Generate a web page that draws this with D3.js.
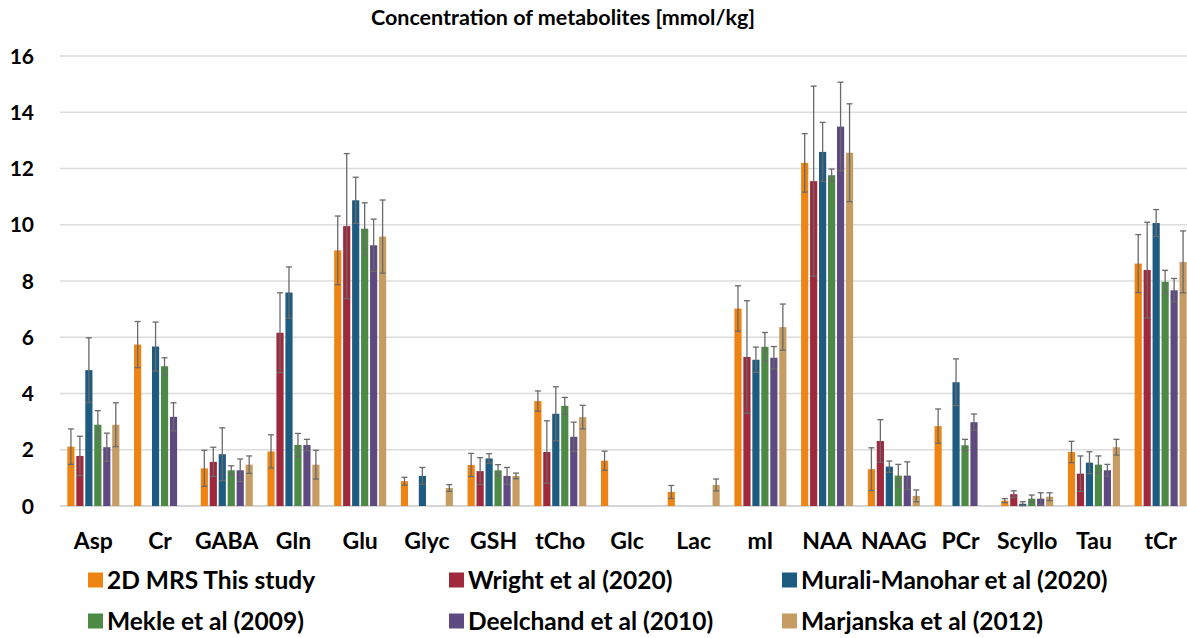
<!DOCTYPE html>
<html>
<head>
<meta charset="utf-8">
<script src="https://cdn.jsdelivr.net/npm/d3@7"></script>
<style>
  body { margin: 0; background: #fff; overflow: hidden; }
  svg { display: block; }
  text { font-family: Lato, "Open Sans", sans-serif; font-weight: bold; fill: #000; }
</style>
</head>
<body>
<div id="chart"></div>
<script>
const width = 1187, height = 638;
const margin = { top: 56, right: -7, bottom: 132, left: 60 };
const innerWidth = width - margin.left - margin.right;
const innerHeight = height - margin.top - margin.bottom;

const categories = ["Asp", "Cr", "GABA", "Gln", "Glu", "Glyc", "GSH", "tCho", "Glc", "Lac",
  "mI", "NAA", "NAAG", "PCr", "Scyllo", "Tau", "tCr"];

const seriesNames = ["2D MRS This study", "Wright et al (2020)", "Murali-Manohar et al (2020)",
  "Mekle et al (2009)", "Deelchand et al (2010)", "Marjanska et al (2012)"];

const colors = ["#ee8414", "#a0283c", "#1e5b80", "#4c8a46", "#5e4a80", "#c69c62"];

// values per series, in category order (null = not reported)
const thisStudy  = [2.11, 5.74, 1.34, 1.94, 9.09, 0.88, 1.46, 3.73, 1.61, 0.50, 7.02, 12.20, 1.31, 2.84, 0.19, 1.92, 8.62];
const wright     = [1.78, null, 1.57, 6.16, 9.95, null, 1.24, 1.92, null, null, 5.30, 11.55, 2.31, null, 0.42, 1.15, 8.39];
const murali     = [4.83, 5.67, 1.84, 7.59, 10.87, 1.07, 1.69, 3.28, null, null, 5.20, 12.59, 1.40, 4.40, 0.08, 1.54, 10.06];
const mekle      = [2.89, 4.97, 1.27, 2.17, 9.86, null, 1.27, 3.56, null, null, 5.66, 11.76, 1.08, 2.16, 0.26, 1.47, 7.97];
const deelchand  = [2.09, 3.17, 1.27, 2.17, 9.27, null, 1.07, 2.46, null, null, 5.27, 13.49, 1.08, 2.98, 0.26, 1.27, 7.67];
const marjanska  = [2.89, null, 1.47, 1.47, 9.58, 0.64, 1.07, 3.16, null, 0.75, 6.36, 12.56, 0.36, null, 0.33, 2.09, 8.68];

// standard deviations
const thisStudySd = [0.63, 0.82, 0.64, 0.59, 1.22, 0.14, 0.41, 0.36, 0.34, 0.23, 0.81, 1.04, 0.76, 0.61, 0.07, 0.38, 1.03];
const wrightSd    = [0.70, null, 0.52, 1.42, 2.58, null, 0.48, 1.11, null, null, 2.00, 3.38, 0.76, null, 0.12, 0.63, 1.70];
const muraliSd    = [1.15, 0.87, 0.94, 0.91, 0.82, 0.30, 0.17, 0.96, null, null, 0.45, 1.05, 0.20, 0.83, 0.07, 0.39, 0.48];
const mekleSd     = [0.50, 0.30, 0.16, 0.41, 0.92, null, 0.20, 0.30, null, null, 0.51, 0.22, 0.40, 0.21, 0.13, 0.31, 0.41];
const deelchandSd = [0.50, 0.50, 0.40, 0.20, 0.93, null, 0.30, 0.52, null, null, 0.40, 1.58, 0.49, 0.29, 0.21, 0.21, 0.42];
const marjanskaSd = [0.78, null, 0.31, 0.51, 1.30, 0.12, 0.10, 0.42, null, 0.21, 0.82, 1.74, 0.21, null, 0.14, 0.28, 1.10];

const yTicks = [0, 2, 4, 6, 8, 10, 12, 14, 16];

const seriesValues = [thisStudy, wright, murali, mekle, deelchand, marjanska];
const seriesSd = [thisStudySd, wrightSd, muraliSd, mekleSd, deelchandSd, marjanskaSd];

const data = [];
categories.forEach((cat, i) => {
  seriesNames.forEach((s, j) => {
    const v = seriesValues[j][i];
    if (v !== null) {
      data.push({ cat, series: s, value: v, sd: seriesSd[j][i] });
    }
  });
});

const svg = d3.select("#chart")
  .append("svg")
  .attr("width", width)
  .attr("height", height);

const innerChart = svg
  .append("g")
  .attr("transform", `translate(${margin.left}, ${margin.top})`);

const xScale = d3.scaleBand()
  .domain(categories)
  .range([0, innerWidth])
  .paddingInner(0.22)
  .paddingOuter(0.11);

const xSub = d3.scaleBand()
  .domain(seriesNames)
  .range([0, xScale.bandwidth()])
  .paddingInner(0.2);

const yScale = d3.scaleLinear()
  .domain([0, 16])
  .range([innerHeight, 0]);

const colorScale = d3.scaleOrdinal()
  .domain(seriesNames)
  .range(colors);

// gridlines
innerChart.append("g")
  .selectAll("line")
  .data(yTicks)
  .join("line")
  .attr("x1", 0)
  .attr("x2", width - margin.left)
  .attr("y1", d => yScale(d))
  .attr("y2", d => yScale(d))
  .attr("stroke", d => d === 0 ? "#c8c8c8" : "#dcdcdc")
  .attr("stroke-width", 1.3);

// y tick labels
innerChart.append("g")
  .selectAll("text")
  .data(yTicks)
  .join("text")
  .attr("x", -26)
  .attr("y", d => yScale(d))
  .attr("dy", "0.36em")
  .attr("text-anchor", "end")
  .style("font-size", "21px")
  .text(d => d);

// bars
const groups = innerChart.selectAll("g.cat")
  .data(categories)
  .join("g")
  .attr("class", "cat")
  .attr("transform", d => `translate(${xScale(d)}, 0)`);

groups.selectAll("rect")
  .data(c => data.filter(d => d.cat === c))
  .join("rect")
  .attr("x", d => xSub(d.series))
  .attr("width", xSub.bandwidth())
  .attr("y", d => yScale(d.value))
  .attr("height", d => innerHeight - yScale(d.value))
  .attr("fill", d => colorScale(d.series));

// error bars
const err = groups.selectAll("g.err")
  .data(c => data.filter(d => d.cat === c))
  .join("g")
  .attr("class", "err")
  .attr("stroke", "#6a6a6a")
  .attr("stroke-width", 1.3);

err.append("line")
  .attr("x1", d => xSub(d.series) + xSub.bandwidth() / 2)
  .attr("x2", d => xSub(d.series) + xSub.bandwidth() / 2)
  .attr("y1", d => yScale(Math.max(0, d.value - d.sd)))
  .attr("y2", d => yScale(d.value + d.sd));

[1, -1].forEach(sign => {
  err.append("line")
    .attr("x1", d => xSub(d.series) + xSub.bandwidth() / 2 - 3)
    .attr("x2", d => xSub(d.series) + xSub.bandwidth() / 2 + 3)
    .attr("y1", d => yScale(Math.max(0, d.value + sign * d.sd)))
    .attr("y2", d => yScale(Math.max(0, d.value + sign * d.sd)));
});

// x labels
innerChart.append("g")
  .selectAll("text")
  .data(categories)
  .join("text")
  .attr("x", d => xScale(d) + xScale.bandwidth() / 2)
  .attr("y", innerHeight + 43)
  .attr("text-anchor", "middle")
  .style("font-size", "23px")
  .text(d => d);

// title
svg.append("text")
  .attr("x", 563)
  .attr("y", 25)
  .attr("text-anchor", "middle")
  .style("font-size", "21.5px")
  .text("Concentration of metabolites [mmol/kg]");

// legend
const legendCols = [88, 449, 782];
const legendRows = [580, 621];
const legend = svg.append("g")
  .selectAll("g")
  .data(seriesNames)
  .join("g")
  .attr("transform", (d, i) => `translate(${legendCols[i % 3]}, ${legendRows[Math.floor(i / 3)]})`);

legend.append("rect")
  .attr("x", 0)
  .attr("y", -7.5)
  .attr("width", 15)
  .attr("height", 15)
  .attr("fill", d => colorScale(d));

legend.append("text")
  .attr("x", 19)
  .attr("y", 0)
  .attr("dy", "0.36em")
  .style("font-size", "24.5px")
  .text(d => d);
</script>
</body>
</html>
